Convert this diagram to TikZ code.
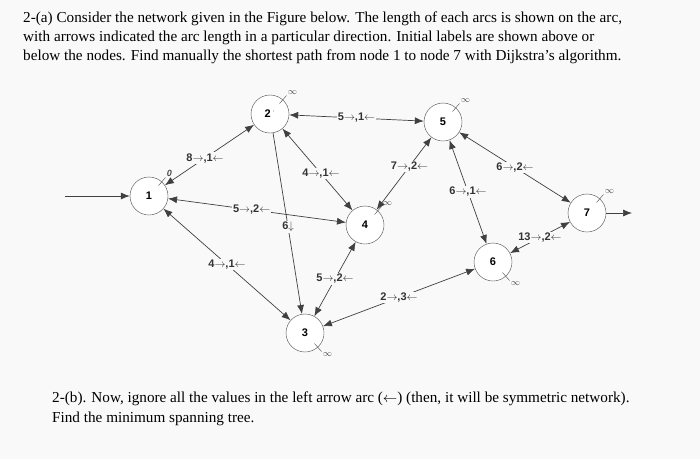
\documentclass[tikz,border=0pt]{standalone}
\usepackage{fontspec}
\setmainfont{Liberation Serif}
\newfontfamily\lab{Liberation Sans}
\usetikzlibrary{arrows.meta}
\begin{document}
\begin{tikzpicture}[x=1pt,y=-1pt,
  nd/.style={circle,draw=black!70,fill=white,minimum size=38pt,inner sep=0pt,font=\lab\bfseries\fontsize{11}{11}\selectfont},
  ed/.style={draw=black!75,line width=0.7pt},
  tip/.style={-{Latex[length=9pt,width=7pt]}},
  both/.style={{Latex[length=9pt,width=7pt]}-{Latex[length=9pt,width=7pt]}},
  lb/.style={fill=white!95!gray,inner sep=1pt,font=\lab\bfseries\fontsize{11}{11}\selectfont,text=black!80},
  inf/.style={font=\fontsize{9}{9}\selectfont,inner sep=1pt},
  txt/.style={anchor=west,inner sep=0pt,font=\fontsize{15.2}{15.2}\selectfont}]
\fill[white!95!gray] (0,0) rectangle (700,459);
\node[txt] at (23,19) {2-(a) Consider the network given in the Figure below. The length of each arcs is shown on the arc,};
\node[txt] at (23,38) {with arrows indicated the arc length in a particular direction. Initial labels are shown above or};
\node[txt] at (23,57) {below the nodes. Find manually the shortest path from node 1 to node 7 with Dijkstra's algorithm.};
\node[txt] at (52,399) {2-(b). Now, ignore all the values in the left arrow arc ($\leftarrow$) (then, it will be symmetric network).};
\node[txt] at (52,419) {Find the minimum spanning tree.};

\node[nd] (n1) at (149,196) {1};
\node[nd] (n2) at (270,114) {2\,$^{\cdot}$};
\node[nd] (n5) at (443,122) {5};
\node[nd] (n4) at (365,225) {4};
\node[nd] (n3) at (305,333) {3};
\node[nd] (n6) at (493,262) {6};
\node[nd] (n7) at (587,213) {7};
\coordinate (in) at (65,196);
\coordinate (out) at (632,213);

\draw[ed,tip] (in) -- (n1);
\draw[ed,tip] (n7) -- (out);
\draw[ed,both] (n1) -- node[lb,pos=0.45]{8$\rightarrow$,1$\leftarrow$} (n2);
\draw[ed,both] (n2) -- node[lb]{5$\rightarrow$,1$\leftarrow$} (n5);
\draw[ed,both] (n2) -- node[lb,pos=0.55]{4$\rightarrow$,1$\leftarrow$} (n4);
\draw[ed,both] (n1) -- node[lb,pos=0.47]{5$\rightarrow$,2$\leftarrow$} (n4);
\draw[ed,tip] (n2) -- node[lb,pos=0.52]{6$\downarrow$} (n3);
\draw[ed,both] (n1) -- node[lb,pos=0.5]{4$\rightarrow$,1$\leftarrow$} (n3);
\draw[ed,both] (n3) -- node[lb]{5$\rightarrow$,2$\leftarrow$} (n4);
\draw[ed,both] (n3) -- node[lb,pos=0.5]{2$\rightarrow$,3$\leftarrow$} (n6);
\draw[ed,both] (n4) -- node[lb,pos=0.6]{7$\rightarrow$,2$\leftarrow$} (n5);
\draw[ed,both] (n5) -- node[lb,pos=0.5]{6$\rightarrow$,1$\leftarrow$} (n6);
\draw[ed,both] (n5) -- node[lb,pos=0.5]{6$\rightarrow$,2$\leftarrow$} (n7);
\draw[ed,both] (n6) -- node[lb,pos=0.5]{13$\rightarrow$,2$\leftarrow$} (n7);

\foreach \n/\t in {n2/$\infty$,n5/$\infty$,n4/$\infty$,n7/$\infty$}{
  \draw[black!70] (\n.north east) ++(-4,3) -- ++(7,-8) node[inf,anchor=south west]{\t};}
\draw[black!70] (n1.north east) ++(-4,3) -- ++(7,-8) node[inf,anchor=south west]{\textit{\lab\bfseries 0}};
\foreach \n in {n3,n6}{
  \draw[black!70] (\n.south east) ++(-4,-3) -- ++(7,8) node[inf,anchor=north west]{$\infty$};}
\end{tikzpicture}
\end{document}
